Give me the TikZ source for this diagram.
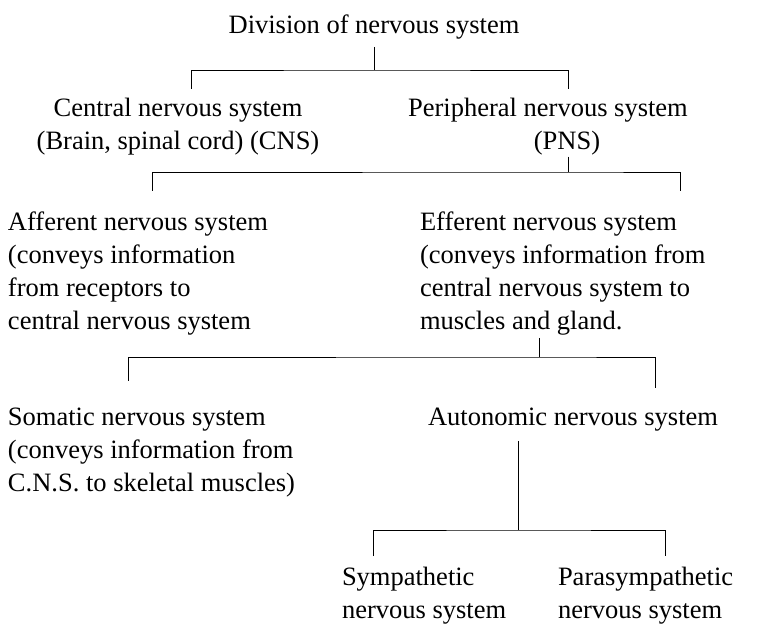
\documentclass[tikz,border=0pt]{standalone}
\usepackage{fontspec}
\setmainfont{Liberation Serif}
\begin{document}
\begin{tikzpicture}[x=1pt,y=-1pt,
  lbl/.style={inner sep=0pt, outer sep=0pt, font=\fontsize{26.5}{33}\selectfont},
  lblc/.style={lbl, align=center, anchor=north},
  lbll/.style={lbl, align=left, anchor=north west},
  conn/.style={line width=0.9pt, line cap=butt}]
\useasboundingbox (0,0) rectangle (761,636);
% first-line baseline = anchor y + 23.1
\node[lblc] (title) at (374,10) {\strut Division of nervous system};
\node[lblc] (central) at (178,93) {\strut Central nervous system\\(Brain, spinal cord) (CNS)};
\node[lblc] (peripheral) at (548,93) {\strut Peripheral nervous system\\\hspace*{38pt}(PNS)};
\node[lbll] (afferent) at (8,207) {\strut Afferent nervous system\\(conveys information\\from receptors to\\central nervous system};
\node[lbll] (efferent) at (420,207) {\strut Efferent nervous system\\(conveys information from\\central nervous system to\\muscles and gland.};
\node[lbll] (somatic) at (8,402) {\strut Somatic nervous system\\(conveys information from\\C.N.S. to skeletal muscles)};
\node[lbll] (autonomic) at (428,402) {\strut Autonomic nervous system};
\node[lbll] (sympathetic) at (342,562) {\strut Sympathetic\\nervous system};
\node[lbll] (parasympathetic) at (558,562) {\strut Parasympathetic\\nervous system};
% junctions
\coordinate (j1) at (374,70);
\coordinate (c1) at (191,89);
\coordinate (p1) at (568,89);
\coordinate (j2) at (568,172);
\coordinate (a2) at (152,191);
\coordinate (e2) at (680,191);
\coordinate (j3) at (539,357);
\coordinate (s3) at (128,381);
\coordinate (u3) at (655,388);
\coordinate (j4) at (518,530);
\coordinate (y4) at (373,556);
\coordinate (p4) at (665,556);
% connectors
\draw[conn] ([yshift=-4pt]title.south) -- (j1);
\draw[conn] (c1) |- (j1) -| (p1);
\draw[conn] (peripheral.south -| j2) ++(0,-2pt) -- (j2);
\draw[conn] (a2) |- (j2) -| (e2);
\draw[conn] (efferent.south -| j3) ++(0,-3pt) -- (j3);
\draw[conn] (s3) |- (j3) -| (u3);
\draw[conn] (autonomic.south -| j4) ++(0,-6pt) -- (j4);
\draw[conn] (y4) |- (j4) -| (p4);
\end{tikzpicture}
\end{document}
